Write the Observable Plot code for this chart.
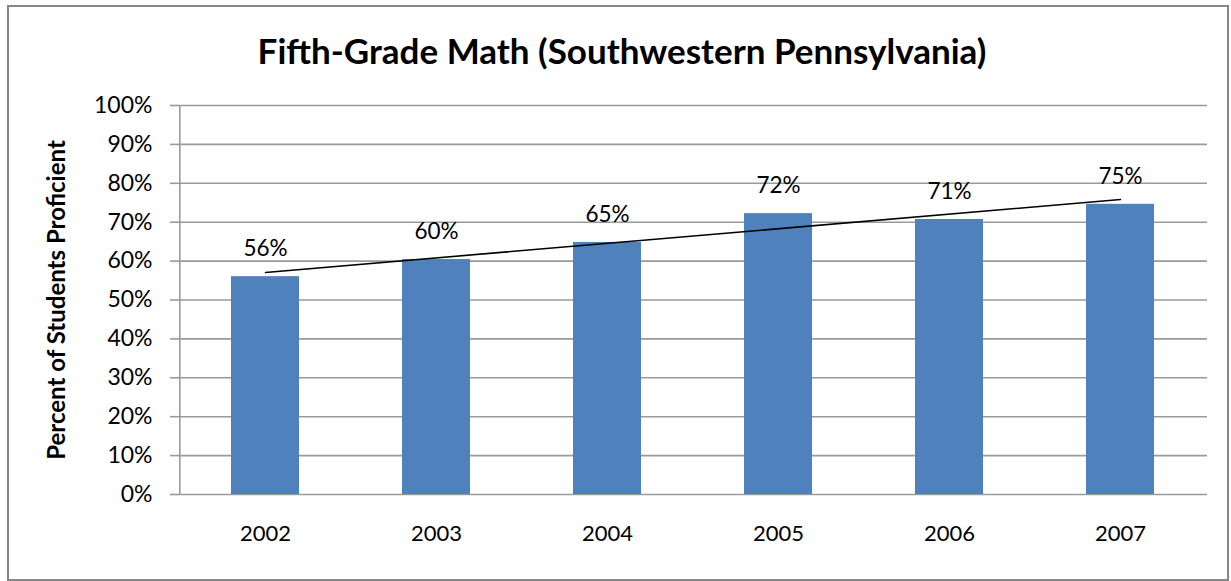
<!DOCTYPE html>
<html>
<head>
<meta charset="utf-8">
<script src="https://cdn.jsdelivr.net/npm/d3@7"></script>
<script src="https://cdn.jsdelivr.net/npm/@observablehq/plot@0.6"></script>
<style>
  html, body { margin: 0; padding: 0; background: #fff; }
  body { width: 1231px; height: 581px; position: relative; overflow: hidden; font-family: Lato, "Open Sans", sans-serif; }
  #frame { position: absolute; left: 7px; top: 5px; width: 1218px; height: 572px; border: 2px solid #878787; }
  #title { position: absolute; left: 0; top: 29px; width: 1244px; text-align: center; font-weight: bold; font-size: 35px; color: #000; line-height: 42px; }
  #chart { position: absolute; left: 0; top: 0; }
</style>
</head>
<body>
<div id="frame"></div>
<div id="title">Fifth-Grade Math (Southwestern Pennsylvania)</div>
<div id="chart"></div>
<script>
const years = ["2002", "2003", "2004", "2005", "2006", "2007"];
const proficient = [0.560, 0.604, 0.648, 0.722, 0.707, 0.746];
const yTicks = [0, 0.1, 0.2, 0.3, 0.4, 0.5, 0.6, 0.7, 0.8, 0.9, 1.0];

const data = years.map((year, i) => ({year, value: proficient[i]}));

// Linear trendline (least squares over category index)
const n = proficient.length;
const mx = d3.mean(d3.range(n));
const my = d3.mean(proficient);
const slope = d3.sum(d3.range(n), i => (i - mx) * (proficient[i] - my)) / d3.sum(d3.range(n), i => (i - mx) ** 2);
const intercept = my - slope * mx;
const trend = [0, n - 1].map(i => ({year: years[i], value: intercept + slope * i}));

const chart = Plot.plot({
  width: 1231,
  height: 581,
  marginLeft: 179,
  marginRight: 24,
  marginTop: 105,
  marginBottom: 87,
  style: {fontFamily: "Lato, 'Open Sans', sans-serif", fontSize: "22px", color: "#000", background: "transparent"},
  x: {domain: years, paddingInner: 0.6, paddingOuter: 0.3},
  y: {domain: [0, 1]},
  marks: [
    Plot.ruleY(yTicks, {stroke: "#9a9a9a", strokeWidth: 1.6}),
    Plot.ruleX([years[0]], {stroke: "#9a9a9a", strokeWidth: 1.6, y1: 0, y2: 1, dx: -85.7}),
    Plot.barY(data, {x: "year", y: "value", fill: "#4F81BD"}),
    Plot.line(trend, {x: "year", y: "value", stroke: "#000", strokeWidth: 1.6}),
    Plot.text(data, {x: "year", y: "value", text: d => d3.format(".0%")(d.value), dy: -28, fill: "#000", fontSize: 22.5}),
    Plot.axisY(yTicks, {tickFormat: d3.format(".0%"), tickSize: 9, stroke: "#9a9a9a", strokeWidth: 1.6, tickPadding: 18, fill: "#000", fontSize: 23, label: "Percent of Students Proficient", labelAnchor: "center", labelOffset: 132, labelArrow: "none"}),
    Plot.axisX({tickSize: 0, tickPadding: 31, fontSize: 22, label: null})
  ]
});
document.getElementById("chart").appendChild(chart);
// Bold the axis label
chart.querySelectorAll("text").forEach(t => {
  if (t.textContent.includes("Percent of Students")) { t.style.fontWeight = "bold"; t.style.fontSize = "24px"; }
});
</script>
</body>
</html>
